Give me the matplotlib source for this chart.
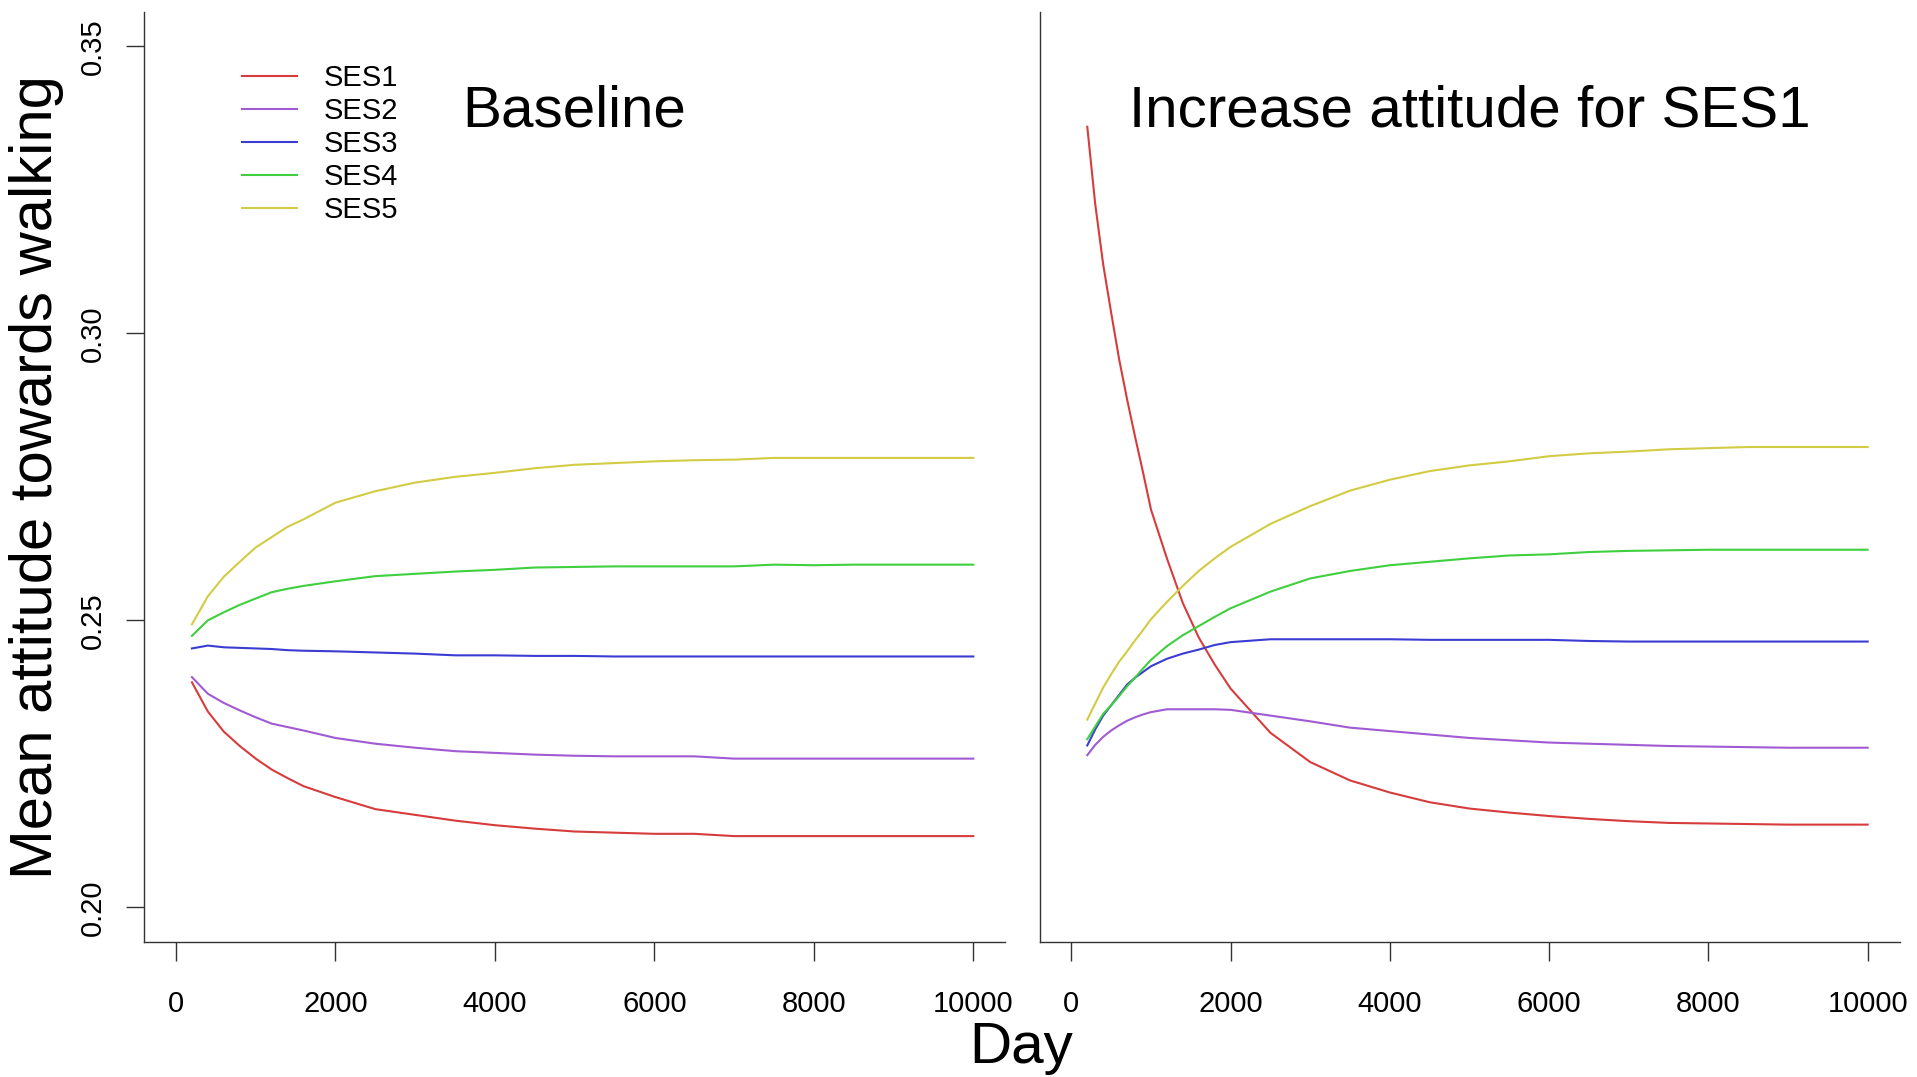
import numpy as np
import matplotlib
matplotlib.use('Agg')
import matplotlib.pyplot as plt

plt.rcParams['font.family'] = ['Liberation Sans', 'DejaVu Sans']

# baseline run
days_base = [200, 400, 600, 800, 1000, 1200, 1400, 1600, 2000, 2500, 3000, 3500,
             4000, 4500, 5000, 5500, 6000, 6500, 7000, 7500, 8000, 8500, 9000, 9500, 10000]
base_ses1 = [0.2392, 0.2341, 0.2306, 0.2281, 0.2259, 0.2240, 0.2225, 0.2211, 0.2192, 0.2171,
             0.2161, 0.2151, 0.2143, 0.2137, 0.2132, 0.2130, 0.2128, 0.2128, 0.2124, 0.2124,
             0.2124, 0.2124, 0.2124, 0.2124, 0.2124]
base_ses2 = [0.2401, 0.2372, 0.2356, 0.2343, 0.2331, 0.2320, 0.2314, 0.2308, 0.2295, 0.2285,
             0.2278, 0.2272, 0.2269, 0.2266, 0.2264, 0.2263, 0.2263, 0.2263, 0.2259, 0.2259,
             0.2259, 0.2259, 0.2259, 0.2259, 0.2259]
base_ses3 = [0.2451, 0.2456, 0.2453, 0.2452, 0.2451, 0.2450, 0.2448, 0.2447, 0.2446, 0.2444,
             0.2442, 0.2439, 0.2439, 0.2438, 0.2438, 0.2437, 0.2437, 0.2437, 0.2437, 0.2437,
             0.2437, 0.2437, 0.2437, 0.2437, 0.2437]
base_ses4 = [0.2473, 0.2500, 0.2514, 0.2527, 0.2538, 0.2549, 0.2555, 0.2560, 0.2568, 0.2577,
             0.2581, 0.2585, 0.2588, 0.2592, 0.2593, 0.2594, 0.2594, 0.2594, 0.2594, 0.2597,
             0.2596, 0.2597, 0.2597, 0.2597, 0.2597]
base_ses5 = [0.2493, 0.2542, 0.2576, 0.2602, 0.2627, 0.2645, 0.2663, 0.2676, 0.2705, 0.2725,
             0.2740, 0.2750, 0.2757, 0.2765, 0.2771, 0.2774, 0.2777, 0.2779, 0.2780, 0.2783,
             0.2783, 0.2783, 0.2783, 0.2783, 0.2783]

# increased attitude for SES1
days_incr = [200, 300, 400, 500, 600, 700, 800, 900, 1000, 1200, 1400, 1600, 1800, 2000,
             2500, 3000, 3500, 4000, 4500, 5000, 5500, 6000, 6500, 7000, 7500, 8000, 8500,
             9000, 9500, 10000]
incr_ses1 = [0.3360, 0.3225, 0.3120, 0.3036, 0.2955, 0.2885, 0.2820, 0.2758, 0.2693, 0.2608,
             0.2530, 0.2470, 0.2423, 0.2381, 0.2304, 0.2253, 0.2221, 0.2200, 0.2183, 0.2172,
             0.2165, 0.2159, 0.2154, 0.2150, 0.2147, 0.2146, 0.2145, 0.2144, 0.2144, 0.2144]
incr_ses2 = [0.2265, 0.2283, 0.2297, 0.2308, 0.2317, 0.2325, 0.2331, 0.2336, 0.2340, 0.2345,
             0.2345, 0.2345, 0.2345, 0.2344, 0.2334, 0.2324, 0.2313, 0.2307, 0.2301, 0.2295,
             0.2291, 0.2287, 0.2285, 0.2283, 0.2281, 0.2280, 0.2279, 0.2278, 0.2278, 0.2278]
incr_ses3 = [0.2282, 0.2310, 0.2334, 0.2352, 0.2370, 0.2388, 0.2400, 0.2410, 0.2420, 0.2433,
             0.2442, 0.2449, 0.2457, 0.2462, 0.2467, 0.2467, 0.2467, 0.2467, 0.2466, 0.2466,
             0.2466, 0.2466, 0.2464, 0.2463, 0.2463, 0.2463, 0.2463, 0.2463, 0.2463, 0.2463]
incr_ses4 = [0.2293, 0.2315, 0.2337, 0.2352, 0.2368, 0.2385, 0.2400, 0.2416, 0.2431, 0.2455,
             0.2474, 0.2490, 0.2506, 0.2521, 0.2550, 0.2573, 0.2586, 0.2596, 0.2602, 0.2608,
             0.2613, 0.2615, 0.2619, 0.2621, 0.2622, 0.2623, 0.2623, 0.2623, 0.2623, 0.2623]
incr_ses5 = [0.2327, 0.2355, 0.2383, 0.2406, 0.2428, 0.2446, 0.2465, 0.2483, 0.2502, 0.2532,
             0.2560, 0.2586, 0.2608, 0.2628, 0.2668, 0.2699, 0.2726, 0.2745, 0.2760, 0.2770,
             0.2777, 0.2786, 0.2791, 0.2794, 0.2798, 0.2800, 0.2802, 0.2802, 0.2802, 0.2802]

labels = ['SES1', 'SES2', 'SES3', 'SES4', 'SES5']
colors = ['#d63c3c', '#a05ad2', '#3c3cd2', '#3fcf3f', '#d2cc44']
xticks = [0, 2000, 4000, 6000, 8000, 10000]
yticks = [0.20, 0.25, 0.30, 0.35]
ytick_labels = ['0.20', '0.25', '0.30', '0.35']

W, H = 1917, 1077
fig = plt.figure(figsize=(W / 100, H / 100), dpi=100)
ax1 = fig.add_axes([144.1 / W, 1 - 941.7 / H, 861.1 / W, 929.7 / H])
ax2 = fig.add_axes([1039.5 / W, 1 - 941.7 / H, 860.0 / W, 929.7 / H])

base = [base_ses1, base_ses2, base_ses3, base_ses4, base_ses5]
incr = [incr_ses1, incr_ses2, incr_ses3, incr_ses4, incr_ses5]
for vals, lab, c in zip(base, labels, colors):
    ax1.plot(days_base, vals, color=c, lw=1.5, label=lab)
for vals, c in zip(incr, colors):
    ax2.plot(days_incr, vals, color=c, lw=1.5)

for ax in (ax1, ax2):
    ax.set_xlim(-400, 10400)
    ax.set_ylim(0.194, 0.356)
    ax.spines['top'].set_visible(False)
    ax.spines['right'].set_visible(False)
    for s in ('left', 'bottom'):
        ax.spines[s].set_linewidth(1.0)
        ax.spines[s].set_color('#333333')
    ax.set_xticks(xticks)
    ax.set_xticklabels([str(t) for t in xticks])
    ax.tick_params(axis='x', direction='out', length=14, width=1.0, color='#333333',
                   labelsize=21, pad=21)

ax1.set_yticks(yticks)
ax1.set_yticklabels(ytick_labels, rotation=90, va='center')
ax1.tick_params(axis='y', direction='out', length=13, width=1.0, color='#333333',
                labelsize=21, pad=14)
ax2.tick_params(axis='y', left=False, labelleft=False)

ax1.text(0.5, 0.8766, 'Baseline', transform=ax1.transAxes, ha='center',
         va='baseline', fontsize=42)
ax2.text(0.5, 0.8766, 'Increase attitude for SES1', transform=ax2.transAxes,
         ha='center', va='baseline', fontsize=42)

ax1.legend(loc='upper left', bbox_to_anchor=(241.7 / W, 1 - 64 / H),
           bbox_transform=fig.transFigure, frameon=False, fontsize=21,
           handlelength=1.9, handletextpad=0.9, labelspacing=0.17,
           borderpad=0, borderaxespad=0)

fig.text(1021.5 / W, 1 - 1063 / H, 'Day', ha='center', va='baseline', fontsize=42)
fig.text(52 / W, 1 - 477 / H, 'Mean attitude towards walking', rotation=90,
         rotation_mode='anchor', ha='center', va='baseline', fontsize=43)

fig.savefig('out.png', dpi=100)
